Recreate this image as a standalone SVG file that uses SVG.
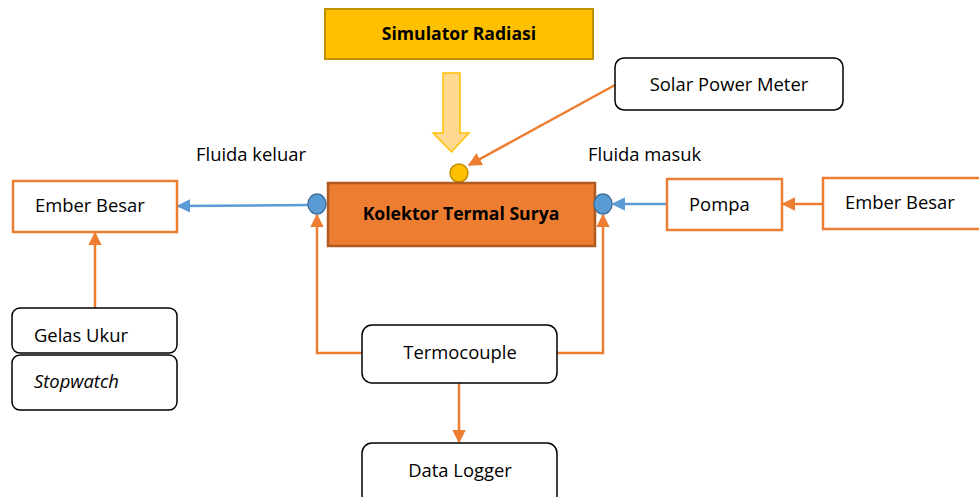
<svg xmlns="http://www.w3.org/2000/svg" width="979" height="497" viewBox="0 0 979 497">
<defs>
<style>
text{font-family:"Open Sans","Liberation Sans",sans-serif;font-size:18.4px;fill:#000}
.b{font-weight:bold;font-size:17.6px}
.box{fill:#fff;stroke:#000;stroke-width:1.5}
.obox{fill:#fff;stroke:#ED7D31;stroke-width:2.5}
.oc{fill:none;stroke:#ED7D31;stroke-width:2.5}
.bc{fill:none;stroke:#5B9BD5;stroke-width:2.5}
</style>
<marker id="ao" viewBox="0 0 10 10" refX="9" refY="5" markerWidth="5.5" markerHeight="5.5" orient="auto" markerUnits="strokeWidth"><path d="M0,0L10,5L0,10z" fill="#ED7D31"/></marker>
<marker id="ab" viewBox="0 0 10 10" refX="9" refY="5" markerWidth="5.5" markerHeight="5.5" orient="auto" markerUnits="strokeWidth"><path d="M0,0L10,5L0,10z" fill="#5B9BD5"/></marker>
</defs>
<g id="connectors">
<line class="oc" x1="615" y1="85" x2="469" y2="165" marker-end="url(#ao)"/>
<line class="bc" x1="308" y1="205" x2="178" y2="206" marker-end="url(#ab)"/>
<line class="bc" x1="667" y1="204" x2="613" y2="204" marker-end="url(#ab)"/>
<line class="oc" x1="823" y1="204" x2="783" y2="204" marker-end="url(#ao)"/>
<line class="oc" x1="95" y1="308" x2="95" y2="233" marker-end="url(#ao)"/>
<polyline class="oc" points="362,353 317,353 317,215" marker-end="url(#ao)"/>
<polyline class="oc" points="557,353 603,353 603,215" marker-end="url(#ao)"/>
<line class="oc" x1="459" y1="383" x2="459" y2="442" marker-end="url(#ao)"/>
</g>
<g id="simulator">
<rect x="325" y="9" width="268" height="50" fill="#FFC000" stroke="#BF9000" stroke-width="2"/>
<text class="b" x="459" y="40" text-anchor="middle">Simulator Radiasi</text>
</g>
<g id="radiation-arrow">
<path d="M443,73H460V133H469L451.5,152L433,133H443Z" fill="#FFD98F" stroke="#FFC000" stroke-width="1.5"/>
</g>
<g id="sensor">
<circle cx="459" cy="173" r="9" fill="#FFC000" stroke="#BF9000" stroke-width="1.5"/>
</g>
<g id="kolektor">
<rect x="328" y="183" width="267" height="63" fill="#ED7D31" stroke="#AE5A21" stroke-width="2.5"/>
<text class="b" x="461" y="215" text-anchor="middle" dominant-baseline="middle">Kolektor Termal Surya</text>
</g>
<g id="port-out"><ellipse cx="317" cy="204" rx="9" ry="10" fill="#5B9BD5" stroke="#41719C" stroke-width="1.5"/></g>
<g id="port-in"><ellipse cx="603" cy="204" rx="9" ry="10" fill="#5B9BD5" stroke="#41719C" stroke-width="1.5"/></g>
<g id="solar-power-meter">
<rect class="box" x="615" y="58" width="228" height="52" rx="9"/>
<text x="729" y="91" text-anchor="middle">Solar Power Meter</text>
</g>
<g id="label-keluar"><text x="196" y="161">Fluida keluar</text></g>
<g id="label-masuk"><text x="588" y="161">Fluida masuk</text></g>
<g id="ember-kiri">
<rect class="obox" x="13" y="181" width="164" height="51"/>
<text x="35" y="212">Ember Besar</text>
</g>
<g id="pompa">
<rect class="obox" x="667" y="179" width="115" height="51"/>
<text x="689" y="211">Pompa</text>
</g>
<g id="ember-kanan">
<rect class="obox" x="823" y="178" width="170" height="51"/>
<text x="845" y="209">Ember Besar</text>
</g>
<g id="gelas-ukur">
<rect class="box" x="12" y="308" width="165" height="45" rx="8"/>
<text x="34" y="342">Gelas Ukur</text>
</g>
<g id="stopwatch">
<rect class="box" x="12" y="355" width="165" height="55" rx="8"/>
<text x="34" y="388" font-style="italic">Stopwatch</text>
</g>
<g id="termocouple">
<rect class="box" x="362" y="325" width="195" height="58" rx="10"/>
<text x="460" y="359" text-anchor="middle">Termocouple</text>
</g>
<g id="data-logger">
<rect class="box" x="362" y="443" width="195" height="62" rx="10"/>
<text x="460" y="477" text-anchor="middle">Data Logger</text>
</g>
</svg>
